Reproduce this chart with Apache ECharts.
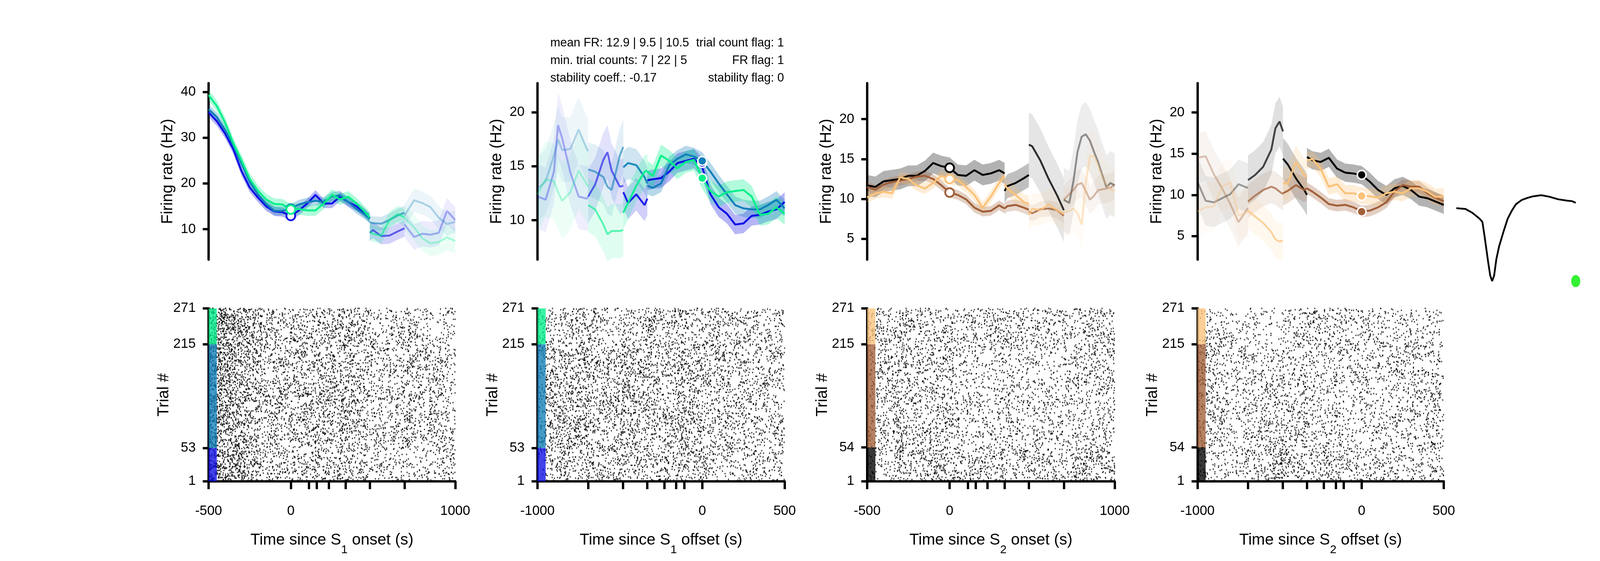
<!DOCTYPE html>
<html>
<head>
<meta charset="utf-8">
<script src="https://cdn.jsdelivr.net/npm/echarts@6.0.0/dist/echarts.min.js"></script>
<style>
html, body { margin: 0; padding: 0; background: #fff; overflow: hidden; }
#main { width: 100vw; height: 100vh; }
</style>
</head>
<body>
<div id="main"></div>
<script>
// panel 1: aligned to S1 onset (segment time grids, ms)
var p1Times = [
	[-500, -450, -400, -350, -300, -250, -200, -150, -100, -50, 0, 50, 100, 150, 200, 250, 300, 350, 400, 450, 480],
	[480, 500, 550, 600, 650, 692],
	[692, 750, 800, 850, 900, 950, 1000]
];
var p1Blue = [
	[35.5, 33.6, 30.9, 27.5, 22.7, 19.1, 16.9, 15.0, 13.9, 13.7, 12.9, 14.1, 15.6, 17.5, 15.6, 15.6, 17.1, 15.9, 15.0, 13.5, 12.4],
	[9.2, 9.8, 8.5, 8.6, 9.5, 10.2],
	[11.0, 8.3, 9.0, 8.8, 9.2, 14.0, 12.0]
];
var p1Teal = [
	[36.2, 34.5, 31.7, 28.3, 24.4, 20.4, 17.6, 15.5, 14.0, 14.0, 14.5, 15.4, 15.9, 16.2, 16.0, 17.1, 17.4, 15.9, 14.4, 13.2, 12.3],
	[11.5, 11.3, 11.2, 12.0, 13.0, 13.6],
	[13.0, 16.3, 15.7, 14.8, 12.5, 11.1, 11.6]
];
var p1Green = [
	[39.3, 36.9, 33.3, 28.8, 25.0, 21.0, 18.4, 16.5, 15.5, 15.4, 14.3, 14.4, 14.1, 14.1, 15.6, 17.5, 16.5, 17.1, 15.6, 13.8, 12.6],
	[9.5, 9.0, 8.6, 12.0, 13.3, 12.6],
	[12.5, 10.4, 8.0, 6.9, 7.2, 8.2, 7.4]
];
var p1Sem = [[1.0, 1.8, 2.8], [1.0, 1.5, 2.5], [1.2, 1.8, 2.8]];
var p1Marks = [12.9, 14.5, 14.3];

// panel 2: aligned to S1 offset
var p2Times = [
	[-1000, -950, -900, -875, -850, -800, -750, -700, -692],
	[-692, -650, -600, -575, -550, -500, -479],
	[-479, -450, -400, -350, -333],
	[-333, -300, -250, -200, -150, -100, -50, 0, 50, 100, 150, 200, 250, 300, 350, 400, 450, 500]
];
var p2Blue = [
	[12.2, 11.9, 14.5, 18.8, 17.6, 14.4, 12.2, 12.0, 12.2],
	[12.2, 13.3, 15.6, 16.3, 14.6, 13.1, 13.2],
	[12.6, 11.6, 12.4, 11.4, 12.0],
	[13.7, 13.8, 13.9, 14.5, 15.3, 15.5, 15.7, 14.9, 12.4, 11.2, 10.6, 9.6, 9.7, 10.4, 10.5, 10.8, 11.0, 11.7]
];
var p2Teal = [
	[12.9, 13.6, 16.0, 17.5, 16.5, 16.6, 18.4, 16.6, 16.4],
	[14.7, 14.5, 14.0, 13.1, 12.8, 16.0, 16.8],
	[14.9, 15.3, 15.1, 14.0, 13.4],
	[13.2, 13.0, 13.4, 15.1, 15.7, 16.1, 15.9, 15.5, 14.5, 13.4, 12.4, 11.4, 11.1, 11.0, 11.0, 11.4, 11.9, 11.1]
];
var p2Green = [
	[12.4, 13.8, 13.6, 12.6, 11.8, 12.6, 14.6, 13.3, 13.1],
	[11.4, 11.0, 9.6, 8.7, 9.0, 9.0, 9.1],
	[10.7, 11.6, 13.2, 14.5, 14.6],
	[14.5, 14.1, 16.0, 15.5, 14.8, 15.4, 15.6, 13.9, 12.7, 12.2, 12.6, 12.7, 12.8, 12.2, 10.5, 10.6, 11.2, 10.6]
];
var p2Sem = [[3.0, 2.5, 1.5, 0.9], [3.0, 2.5, 1.5, 0.8], [3.5, 2.5, 1.5, 1.0]];
var p2Marks = [15.3, 15.5, 13.9];

// panel 3: aligned to S2 onset
var p3Times = [
	[-500, -450, -400, -350, -300, -250, -200, -150, -100, -50, 0, 50, 100, 150, 200, 250, 300, 333],
	[333, 350, 400, 450, 480],
	[480, 500, 550, 600, 650, 692],
	[692, 725, 750, 775, 800, 825, 850, 875, 900, 925, 950, 975, 1000]
];
var p3Black = [
	[11.7, 11.5, 12.2, 12.35, 12.5, 12.9, 12.9, 13.5, 14.5, 14.1, 13.9, 13.0, 12.9, 13.6, 13.0, 13.2, 13.6, 13.2],
	[11.0, 11.6, 12.0, 12.6, 13.0],
	[16.8, 16.6, 14.8, 12.5, 10.5, 8.6],
	[9.9, 9.5, 12.2, 15.9, 17.8, 18.1, 17.3, 15.9, 14.6, 13.0, 11.5, 12.0, 11.7]
];
var p3Brown = [
	[11.5, 11.15, 11.8, 12.1, 12.3, 12.5, 12.8, 12.9, 12.5, 11.7, 10.8, 10.5, 9.95, 8.9, 8.4, 8.5, 9.2, 8.8],
	[8.8, 9.1, 9.25, 8.9, 8.65],
	[8.4, 8.2, 8.7, 8.8, 8.6, 7.9],
	[9.9, 10.6, 11.1, 11.8, 12.0, 11.0, 9.9, 10.4, 11.1, 11.2, 11.3, 11.4, 11.8]
];
var p3Orange = [
	[10.2, 10.7, 10.9, 10.7, 12.7, 12.5, 11.7, 11.3, 12.0, 12.9, 12.5, 12.35, 11.5, 10.5, 8.9, 10.3, 12.0, 12.9],
	[11.8, 11.3, 10.5, 9.6, 9.4],
	[8.0, 8.75, 8.6, 9.3, 8.6, 8.1],
	[8.3, 8.5, 8.8, 8.2, 6.8, 12.0, 15.3, 15.4, 14.2, 12.8, 11.8, 11.2, 11.0]
];
var p3Sem = [[1.3, 1.5, 4.0, 4.0], [0.6, 0.7, 1.0, 1.8], [0.7, 1.0, 2.0, 3.0]];
var p3Marks = [13.9, 10.8, 12.5];

// panel 4: aligned to S2 offset
var p4Times = [
	[-1000, -950, -900, -850, -800, -750, -700, -692],
	[-692, -650, -600, -550, -525, -500, -479],
	[-479, -450, -400, -350, -333],
	[-333, -300, -250, -200, -150, -100, -50, 0, 50, 100, 150, 200, 250, 300, 350, 400, 450, 500]
];
var p4Black = [
	[11.6, 9.3, 9.1, 9.6, 10.1, 11.3, 10.9, 10.9],
	[11.8, 12.4, 13.4, 15.5, 18.1, 18.9, 17.7],
	[14.4, 13.7, 12.0, 10.6, 10.0],
	[14.6, 14.2, 14.0, 14.5, 13.2, 12.7, 12.6, 12.4, 11.6, 10.6, 10.0, 10.8, 11.1, 10.6, 9.8, 9.6, 9.2, 8.8]
];
var p4Brown = [
	[14.5, 14.7, 12.5, 10.8, 8.9, 6.7, 8.2, 8.4],
	[9.2, 9.9, 10.6, 11.0, 10.8, 10.4, 10.1],
	[10.2, 10.5, 11.2, 10.6, 10.8],
	[10.8, 10.4, 9.7, 8.9, 8.7, 8.8, 8.5, 8.0, 8.1, 8.5, 9.1, 10.4, 11.2, 11.0, 11.0, 10.2, 9.65, 9.25]
];
var p4Orange = [
	[8.0, 8.5, 8.6, 11.0, 11.5, 7.5, 7.9, 8.0],
	[8.1, 7.4, 6.6, 5.5, 4.6, 4.35, 4.5],
	[11.4, 11.4, 14.0, 12.4, 12.2],
	[14.2, 14.35, 13.2, 11.0, 11.3, 10.2, 10.2, 9.9, 9.84, 9.65, 10.2, 10.4, 10.2, 10.8, 10.8, 10.4, 9.75, 9.84]
];
var p4Sem = [[3.0, 3.0, 2.5, 1.1], [3.0, 2.0, 1.5, 0.7], [3.0, 2.2, 2.0, 1.0]];
var p4Marks = [12.43, 7.97, 9.88];

// axes
var p1YRange = [3.35, 41.9], p2YRange = [6.35, 22.7], p3YRange = [2.4, 24.5], p4YRange = [2.16, 23.55];
var p1YTicks = [10, 20, 30, 40], p2YTicks = [10, 15, 20], p3YTicks = [5, 10, 15, 20], p4YTicks = [5, 10, 15, 20];
var onsetTicks = [-500, 0, 110, 158, 230, 333, 480, 692, 1000];
var offsetTicks = [-1000, -692, -480, -333, -230, -158, -110, 0, 500];
var onsetLabels = [-500, 0, 1000];
var offsetLabels = [-1000, 0, 500];
var s1Trials = [1, 53, 215, 271];
var s2Trials = [1, 54, 215, 271];

// stats text
var statsLeft = ['mean FR: 12.9 | 9.5 | 10.5', 'min. trial counts: 7 | 22 | 5', 'stability coeff.: -0.17'];
var statsRight = ['trial count flag: 1', 'FR flag: 1', 'stability flag: 0'];

// spike waveform
var waveX = [0, 4.6, 8.2, 11.7, 13.1, 14.2, 15.9, 17.0, 18.0, 19.0, 20.1, 21.5, 23.7, 25.8, 27.9, 30.0, 32.8, 35.6, 38.5, 42.7, 46.9, 51.1, 55.4, 58.2, 60];
var waveY = [0, -0.5, -3, -6.5, -8.5, -17.5, -32.5, -41.5, -45, -41.5, -31.5, -23.5, -14.5, -6.5, -1.5, 2.5, 5, 6.3, 7.3, 8, 7, 5.5, 4.7, 4.3, 3.3];

// ---- style ----
var FONT = '"Liberation Sans", Arial, sans-serif';
var coolColors = ['#0d0de6', '#0f7fb8', '#00f08a'];
var warmColors = ['#000000', '#a15f38', '#fbc27a'];
var BAR_MS = 50;

var panels = [
	{ times: p1Times, vals: [p1Blue, p1Teal, p1Green], sem: p1Sem, marks: p1Marks, colors: coolColors, open: true,
		xRange: [-500, 1000], yRange: p1YRange, yTicks: p1YTicks, xTicks: onsetTicks, xLabels: onsetLabels,
		trials: s1Trials, sub: '1', event: 'onset', box: [713, 843],
		lineAlpha: [1, 0.6, 0.3], bandAlpha: [0.3, 0.18, 0.08] },
	{ times: p2Times, vals: [p2Blue, p2Teal, p2Green], sem: p2Sem, marks: p2Marks, colors: coolColors, open: false,
		xRange: [-1000, 500], yRange: p2YRange, yTicks: p2YTicks, xTicks: offsetTicks, xLabels: offsetLabels,
		trials: s1Trials, sub: '1', event: 'offset', box: [1837, 845],
		lineAlpha: [0.3, 0.6, 0.9, 1], bandAlpha: [0.07, 0.12, 0.2, 0.3] },
	{ times: p3Times, vals: [p3Black, p3Brown, p3Orange], sem: p3Sem, marks: p3Marks, colors: warmColors, open: true,
		xRange: [-500, 1000], yRange: p3YRange, yTicks: p3YTicks, xTicks: onsetTicks, xLabels: onsetLabels,
		trials: s2Trials, sub: '2', event: 'onset', box: [2964, 846],
		lineAlpha: [1, 1, 0.8, 0.4], bandAlpha: [0.3, 0.25, 0.1, 0.07] },
	{ times: p4Times, vals: [p4Black, p4Brown, p4Orange], sem: p4Sem, marks: p4Marks, colors: warmColors, open: false,
		xRange: [-1000, 500], yRange: p4YRange, yTicks: p4YTicks, xTicks: offsetTicks, xLabels: offsetLabels,
		trials: s2Trials, sub: '2', event: 'offset', box: [4093, 842],
		lineAlpha: [0.35, 0.7, 0.9, 1], bandAlpha: [0.07, 0.12, 0.2, 0.3] }
];

var dom = document.getElementById('main');
// layout measured on the 5469 x 1437 picture, stretched to the window
var SX = dom.clientWidth / 5469;
var SY = dom.clientHeight / 1437;
function px(v) {
	return v * SX;
}
function py(v) {
	return v * SY;
}

function rgba(hex, a) {
	var n = parseInt(hex.slice(1), 16);
	return 'rgba(' + (n >> 16 & 255) + ',' + (n >> 8 & 255) + ',' + (n & 255) + ',' + a + ')';
}

function bandRenderer(pts, fill) {
	return function(params, api) {
		if (params.dataIndex !== 0) return null;
		var up = pts.map(function(d) { return api.coord([d[0], d[2]]); });
		var lo = pts.map(function(d) { return api.coord([d[0], d[1]]); }).reverse();
		return { type: 'polygon', shape: { points: up.concat(lo) }, style: { fill: fill } };
	};
}

// integer hash -> [0,1), fixed for a given (trial, spike) pair
function hash01(a, b) {
	var h = Math.imul(a, 374761393) + Math.imul(b, 668265263) | 0;
	h = Math.imul(h ^ (h >>> 13), 1274126177);
	h = h ^ (h >>> 16);
	return (h >>> 0) / 4294967296;
}

/**
 * raster ticks: every trial fires at the read firing rate of its condition
 * (Poisson-like spacing, spike times fixed by hash01)
 */
function makeSpikes(p, seed) {
	var out = [];
	var edges = p.trials;
	for (var i = edges[0]; i <= edges[3]; i++) {
		var c = i < edges[1] ? 0 : (i < edges[2] ? 1 : 2);
		var m = 0;
		var need = -Math.log(1 - hash01(i + seed, m));
		p.vals[c].forEach(function(vals, s) {
			var ts = p.times[s];
			for (var k = 0; k < ts.length - 1; k++) {
				var dt = ts[k + 1] - ts[k];
				if (dt <= 0) continue;
				var lam = (vals[k] + vals[k + 1]) / 2 * dt / 1000;
				var pos = 0;
				while (need <= lam * (1 - pos)) {
					pos += need / lam;
					out.push([ts[k] + dt * pos, i]);
					m++;
					need = -Math.log(1 - hash01(i + seed, m));
				}
				need -= lam * (1 - pos);
			}
		});
	}
	return out;
}

var axisLine = { show: true, onZero: false, lineStyle: { color: '#000', width: px(8) } };
function tickStyle(vals, len) {
	return { show: true, inside: false, length: len, lineStyle: { color: '#000', width: px(8) }, customValues: vals };
}
function labelStyle(vals, margin) {
	return {
		show: true, color: '#000', fontSize: px(46), fontFamily: FONT, margin: margin, customValues: vals,
		formatter: function(v) { return String(v); }
	};
}
var titleStyle = { fontSize: px(54), fontFamily: FONT, color: '#000' };

var grids = [], xAxes = [], yAxes = [], series = [];

panels.forEach(function(p, i) {
	var g = 2 * i, r = 2 * i + 1;
	grids.push({ left: px(p.box[0]), width: px(p.box[1]), top: py(213), height: py(452) });
	grids.push({ left: px(p.box[0]), width: px(p.box[1]), top: py(790), height: py(443) });

	xAxes.push({ gridIndex: g, type: 'value', min: p.xRange[0], max: p.xRange[1], show: false });
	xAxes.push({
		gridIndex: r, type: 'value', min: p.xRange[0], max: p.xRange[1],
		axisLine: axisLine, axisTick: tickStyle(p.xTicks, py(20)),
		axisLabel: labelStyle(p.xLabels, py(77) - px(23)),
		splitLine: { show: false },
		name: '{t|Time since S}{s|' + p.sub + '}{t| ' + p.event + ' (s)}',
		nameLocation: 'middle', nameGap: py(168) - px(50),
		nameTextStyle: {
			rich: {
				t: { fontSize: px(54), fontFamily: FONT, color: '#000', lineHeight: px(62), verticalAlign: 'top' },
				s: { fontSize: px(40), fontFamily: FONT, color: '#000', lineHeight: px(40), verticalAlign: 'top', padding: [px(40), 0, 0, 0] }
			}
		}
	});

	yAxes.push({
		gridIndex: g, type: 'value', min: p.yRange[0], max: p.yRange[1],
		axisLine: axisLine, axisTick: tickStyle(p.yTicks, px(20)), axisLabel: labelStyle(p.yTicks, px(44)),
		splitLine: { show: false },
		name: 'Firing rate (Hz)', nameLocation: 'middle', nameGap: px(112), nameTextStyle: titleStyle
	});
	yAxes.push({
		gridIndex: r, type: 'value', min: p.trials[0], max: p.trials[3],
		axisLine: axisLine, axisTick: tickStyle(p.trials, px(20)), axisLabel: labelStyle(p.trials, px(44)),
		splitLine: { show: false },
		name: 'Trial #', nameLocation: 'middle', nameGap: px(112), nameTextStyle: titleStyle
	});

	// firing rate: band + mean per condition and segment
	p.vals.forEach(function(segs, c) {
		segs.forEach(function(vals, s) {
			var sem = p.sem[c][s];
			var pts = p.times[s].map(function(t, k) { return [t, vals[k] - sem, vals[k] + sem]; });
			series.push({
				type: 'custom', xAxisIndex: g, yAxisIndex: g, silent: true, z: 2,
				data: pts, renderItem: bandRenderer(pts, rgba(p.colors[c], p.bandAlpha[s]))
			});
			series.push({
				type: 'line', xAxisIndex: g, yAxisIndex: g, silent: true, z: 2,
				symbol: 'none', showSymbol: false,
				lineStyle: { color: p.colors[c], width: px(6.5), opacity: p.lineAlpha[s] },
				data: p.times[s].map(function(t, k) { return [t, vals[k]]; })
			});
		});
	});
	p.marks.forEach(function(v, c) {
		series.push({
			type: 'scatter', xAxisIndex: g, yAxisIndex: g, silent: true, z: 5,
			symbol: 'circle', symbolSize: px(30),
			itemStyle: p.open
				? { color: '#fff', borderColor: p.colors[c], borderWidth: px(6), opacity: 1 }
				: { color: p.colors[c], borderColor: '#fff', borderWidth: px(5), opacity: 1 },
			data: [[0, v]]
		});
	});

	// raster
	series.push({
		type: 'scatter', xAxisIndex: r, yAxisIndex: r, silent: true, z: 2,
		large: true, largeThreshold: 500,
		symbol: 'rect', symbolSize: [px(3.6), py(3.6)],
		itemStyle: { color: '#000' },
		data: makeSpikes(p, 1000 * (i + 1))
	});
	var bars = [[0, p.trials[0], p.trials[1]], [1, p.trials[1], p.trials[2]], [2, p.trials[2], p.trials[3]]];
	series.push({
		type: 'custom', xAxisIndex: r, yAxisIndex: r, silent: true, z: 3,
		data: bars,
		renderItem: function(params, api) {
			var b = bars[params.dataIndex];
			var a = api.coord([p.xRange[0], b[2]]);
			var z = api.coord([p.xRange[0] + BAR_MS, b[1]]);
			return {
				type: 'rect', shape: { x: a[0], y: a[1], width: z[0] - a[0], height: z[1] - a[1] },
				style: { fill: rgba(p.colors[b[0]], 0.78) }
			};
		}
	});
});

// waveform + colour dot
grids.push({ left: px(4978), width: px(408), top: py(500), height: py(220) });
xAxes.push({ gridIndex: 8, type: 'value', min: 0, max: 60, show: false });
yAxes.push({ gridIndex: 8, type: 'value', min: -45, max: 8, show: false });
series.push({
	type: 'line', xAxisIndex: 8, yAxisIndex: 8, silent: true, symbol: 'none',
	lineStyle: { color: '#000', width: px(6) },
	data: waveX.map(function(x, k) { return [x, waveY[k]]; })
});
series.push({
	type: 'scatter', xAxisIndex: 8, yAxisIndex: 8, silent: true, clip: false,
	symbolSize: [px(31), py(31)], itemStyle: { color: '#00ee00' },
	data: [[60, -45]]
});

var graphics = [];
statsLeft.forEach(function(txt, k) {
	graphics.push({ type: 'text', x: px(1881), y: py(111 + 45 * k),
		style: { text: txt, fontSize: px(41), fontFamily: FONT, fill: '#000', align: 'left', verticalAlign: 'middle' } });
});
statsRight.forEach(function(txt, k) {
	graphics.push({ type: 'text', x: px(2680), y: py(111 + 45 * k),
		style: { text: txt, fontSize: px(41), fontFamily: FONT, fill: '#000', align: 'right', verticalAlign: 'middle' } });
});

var option = {
	animation: false,
	backgroundColor: '#fff',
	grid: grids,
	xAxis: xAxes,
	yAxis: yAxes,
	series: series,
	graphic: graphics
};

var myChart = echarts.init(dom);
myChart.setOption(option);
</script>
</body>
</html>
